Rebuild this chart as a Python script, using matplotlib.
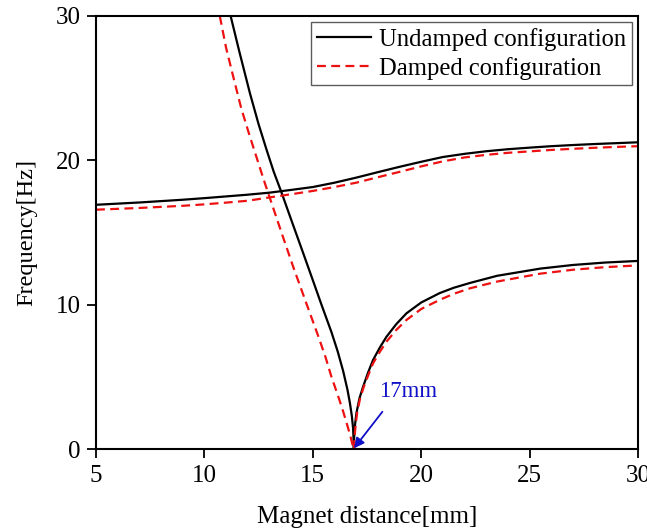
import matplotlib
matplotlib.use("Agg")
import matplotlib.pyplot as plt

plt.rcParams['font.family'] = ['Liberation Serif', 'DejaVu Serif']

# Undamped configuration
und_upper_x = [5, 7, 9, 10, 11, 12, 13, 14, 15, 16, 17, 18, 19, 20, 21, 22, 23, 24, 25, 26, 27, 28, 29, 30]
und_upper_y = [16.92, 17.08, 17.27, 17.38, 17.5, 17.62, 17.76, 17.95, 18.15, 18.45, 18.8, 19.18, 19.55, 19.9, 20.23, 20.45, 20.63, 20.77, 20.88, 20.98, 21.06, 21.13, 21.19, 21.25]
und_steep_x = [11.21, 11.6, 12.1, 12.5, 12.87, 13.2, 13.56, 14.0, 14.55, 15.0, 15.4, 15.86, 16.15, 16.4, 16.6, 16.71, 16.8, 16.86, 16.88, 16.89]
und_steep_y = [30.0, 27.6, 24.65, 22.5, 20.72, 19.2, 17.76, 15.9, 13.6, 11.7, 10.0, 8.1, 6.75, 5.4, 4.1, 3.2, 2.3, 1.4, 0.7, 0.0]
und_lower_x = [16.89, 16.91, 16.95, 17.01, 17.15, 17.32, 17.55, 17.78, 18.1, 18.4, 18.85, 19.32, 20.0, 20.85, 21.5, 22.24, 23.5, 25.5, 27.0, 28.5, 30.0]
und_lower_y = [0.0, 0.9, 1.7, 2.47, 3.5, 4.32, 5.3, 6.17, 7.05, 7.78, 8.65, 9.4, 10.15, 10.8, 11.17, 11.5, 12.0, 12.5, 12.75, 12.92, 13.03]

# Damped configuration
dam_upper_x = [5, 7, 9, 10, 11, 12, 13, 14, 15, 16, 17, 18, 19, 20, 21, 22, 23, 24, 25, 26, 27, 28, 29, 30]
dam_upper_y = [16.58, 16.7, 16.85, 16.95, 17.07, 17.2, 17.43, 17.65, 17.88, 18.15, 18.45, 18.83, 19.2, 19.58, 19.93, 20.2, 20.38, 20.52, 20.62, 20.72, 20.8, 20.87, 20.93, 20.98]
dam_steep_x = [10.71, 11.0, 11.33, 11.7, 12.1, 12.45, 12.79, 13.1, 13.6, 14.09, 14.7, 15.28, 15.6, 15.86, 16.15, 16.4, 16.6, 16.75, 16.88]
dam_steep_y = [30.0, 27.8, 25.8, 23.6, 21.64, 20.0, 18.41, 17.03, 14.8, 12.65, 10.1, 7.7, 6.3, 5.0, 3.75, 2.6, 1.6, 0.8, 0.0]
dam_lower_x = [16.9, 16.93, 16.98, 17.04, 17.18, 17.35, 17.58, 17.78, 18.1, 18.4, 18.85, 19.32, 20.0, 20.85, 21.5, 22.24, 23.5, 25.5, 27.0, 28.5, 30.0]
dam_lower_y = [0.0, 0.9, 1.7, 2.47, 3.5, 4.3, 5.2, 5.94, 6.75, 7.44, 8.25, 8.94, 9.7, 10.33, 10.75, 11.13, 11.6, 12.15, 12.42, 12.6, 12.72]

annot_text = "17mm"
annot_point = (16.9, 0.05)
annot_tail = (18.21, 2.58)
annot_text_pos = (18.04, 3.95)

fig = plt.figure(figsize=(6.47, 5.28), dpi=100)
ax = fig.add_axes([96/647, 1 - 449/528, (638-96)/647, (449-16)/528])

lw = 1.6
red = '#ee1111'
dash = (0, (4, 2.4))
ax.plot(und_upper_x, und_upper_y, color='black', lw=lw, label='Undamped configuration')
ax.plot(und_steep_x, und_steep_y, color='black', lw=lw)
ax.plot(und_lower_x, und_lower_y, color='black', lw=lw)
ax.plot(dam_upper_x, dam_upper_y, color=red, lw=lw, ls=dash, label='Damped configuration')
ax.plot(dam_steep_x, dam_steep_y, color=red, lw=lw, ls=dash)
ax.plot(dam_lower_x, dam_lower_y, color=red, lw=lw, ls=dash)

blue = '#1010c8'
ax.annotate('', xy=annot_point, xytext=annot_tail,
            arrowprops=dict(arrowstyle='-|>', color=blue, lw=1.3,
                            mutation_scale=15, shrinkA=0, shrinkB=0))
ax.text(annot_text_pos[0], annot_text_pos[1], annot_text, color=blue,
        fontsize=16.5, va='center', ha='left')

ax.set_xlim(5, 30)
ax.set_ylim(0, 30)
ax.set_xticks([5, 10, 15, 20, 25, 30])
ax.set_yticks([0, 10, 20, 30])
ax.tick_params(direction='out', length=6.5, width=1.3, labelsize=18, top=False, right=False)
ax.tick_params(axis='x', pad=5)
ax.tick_params(axis='y', pad=4.5)
for s in ax.spines.values():
    s.set_linewidth(1.5)
ax.set_xlabel('Magnet distance[mm]', fontsize=18, labelpad=14)
ax.set_ylabel('Frequency[Hz]', fontsize=17.5, labelpad=13)

leg = ax.legend(loc='upper right', fontsize=17.7, frameon=True, fancybox=False,
                edgecolor='#333333', handlelength=2.2, borderpad=0.22,
                labelspacing=0.25, handletextpad=0.35, borderaxespad=0.25)
leg.get_frame().set_linewidth(1.0)

fig.savefig('out.png', dpi=100)
